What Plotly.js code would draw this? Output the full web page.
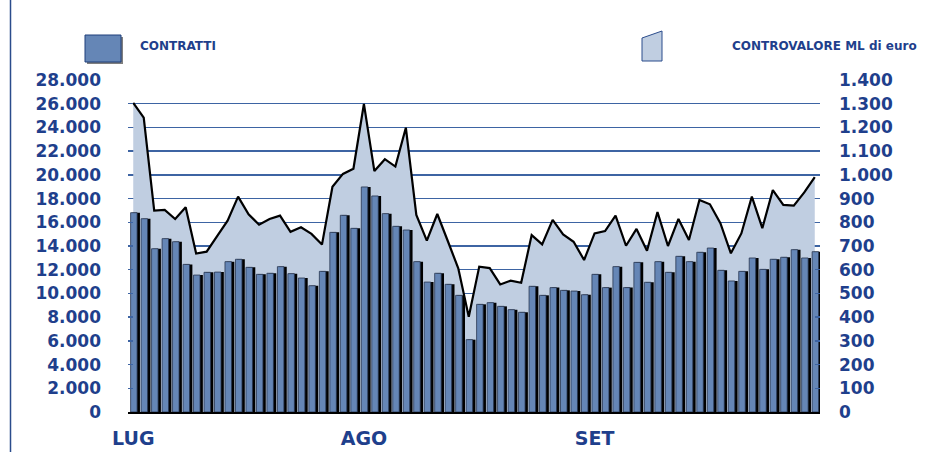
<!DOCTYPE html>
<html>
<head>
<meta charset="utf-8">
<script src="https://cdn.plot.ly/plotly-3.0.1.min.js"></script>
<style>
  html, body { margin: 0; padding: 0; background: #ffffff; }
  #chart { width: 926px; height: 452px; }
</style>
</head>
<body>
<div id="chart"></div>
<script>
// ---- data ----
const contratti = [16810,16300,13770,14620,14360,12450,11550,11780,11800,12680,
  12880,12200,11610,11700,12260,11670,11300,10650,11860,15150,
  16590,15490,18980,18220,16730,15660,15350,12680,10960,11700,
  10770,9840,6100,9080,9220,8910,8630,8410,10600,9840,
  10490,10260,10200,9890,11610,10490,12260,10490,12620,10940,
  12680,11780,13130,12680,13470,13830,11950,11050,11860,12990,
  12030,12880,13050,13690,12990,13520];
const controvalore = [1304,1241,849,852,814,863,668,676,742,807,
  908,834,790,814,828,760,779,751,706,950,
  1004,1026,1299,1016,1066,1035,1199,831,723,835,
  721,606,402,613,607,538,554,545,746,707,
  810,749,718,641,753,763,828,701,772,680,
  843,700,814,725,894,876,796,669,753,908,
  775,936,873,870,926,990];
const monthLabels = ["LUG", "AGO", "SET"];
const monthPos = [0, 22, 44];
const legendNames = ["CONTRATTI", "CONTROVALORE ML di euro"];

const idx = contratti.map((_, i) => i);

const NAVY = "#1F3F8C";
const BARBLUE = "#6586B6";
const AREA = "#C0CEE1";
const GRID = "#3D64A3";

// plot geometry in pixels (for legend shapes placed in paper coords)
const L = 128, R = 820, T = 80, B = 412;
const px = x => (x - L) / (R - L);
const py = y => (B - y) / (B - T);

const traces = [
  {
    type: "scatter", x: idx, y: controvalore, name: legendNames[1],
    mode: "lines", fill: "tozeroy", fillcolor: AREA,
    line: { color: "#000000", width: 2.2 },
    xaxis: "x", yaxis: "y", showlegend: false
  },
  {
    type: "bar", x: idx, y: contratti, name: legendNames[0] + " shadow",
    marker: { color: "#000000", line: { width: 0 } },
    width: 0.74, offset: -0.1,
    xaxis: "x", yaxis: "y2", showlegend: false
  },
  {
    type: "bar", x: idx, y: contratti, name: legendNames[0],
    marker: { color: BARBLUE, line: { color: "#27354F", width: 0.8 } },
    width: 0.62, offset: -0.25,
    xaxis: "x", yaxis: "y2", showlegend: false
  }
];

const tickFont = { family: "DejaVu Sans, Arial, sans-serif", size: 17, color: NAVY, weight: 700 };

const shapes = [
  // left frame line
  { type: "line", xref: "paper", yref: "paper", x0: px(10.5), x1: px(10.5), y0: py(0), y1: py(452),
    line: { color: "#2B4C8C", width: 1.5 } },
  // legend 1: bar icon with shadow
  { type: "rect", xref: "paper", yref: "paper", x0: px(87), x1: px(123), y0: py(37), y1: py(64),
    fillcolor: "#7F7F7F", line: { width: 0 } },
  { type: "rect", xref: "paper", yref: "paper", x0: px(85), x1: px(121), y0: py(35), y1: py(62),
    fillcolor: BARBLUE, line: { color: "#1F3F7A", width: 1 } },
  // legend 2: area icon (parallelogram)
  { type: "path", xref: "paper", yref: "paper",
    path: `M ${px(642)} ${py(61)} L ${px(642)} ${py(38)} L ${px(662)} ${py(31)} L ${px(662)} ${py(61)} Z`,
    fillcolor: AREA, line: { color: "#2B4C8C", width: 1 } }
];

const annFont = { family: "DejaVu Sans, Arial, sans-serif", size: 12, color: NAVY, weight: 700 };
const annotations = [
  { xref: "paper", yref: "paper", x: px(138), y: py(46), xanchor: "left", yanchor: "middle",
    text: legendNames[0], showarrow: false, font: annFont },
  { xref: "paper", yref: "paper", x: px(730), y: py(46), xanchor: "left", yanchor: "middle",
    text: legendNames[1], showarrow: false, font: annFont }
];

const layout = {
  width: 926, height: 452,
  margin: { l: L, r: 926 - R, t: T, b: 452 - B, pad: 0 },
  paper_bgcolor: "#ffffff", plot_bgcolor: "rgba(0,0,0,0)",
  separators: ",.",
  barmode: "overlay",
  showlegend: false,
  xaxis: {
    range: [-0.5, contratti.length - 0.5],
    tickmode: "array", tickvals: monthPos, ticktext: monthLabels,
    ticks: "", showgrid: false, zeroline: false,
    showline: true, linecolor: "#000000", linewidth: 1.5,
    tickfont: { family: "DejaVu Sans, Arial, sans-serif", size: 19, color: NAVY, weight: 700 },
    ticklabelstandoff: 9
  },
  yaxis: {
    side: "right", range: [0, 1400], dtick: 100, tickformat: ",d",
    showgrid: false, zeroline: false, showline: false,
    ticks: "inside", ticklen: 5, tickcolor: GRID, tickwidth: 1.3,
    tickfont: tickFont, ticklabelstandoff: 18
  },
  yaxis2: {
    overlaying: "y", side: "left", range: [0, 28000], dtick: 2000, tickformat: ",d",
    showgrid: true, gridcolor: GRID, gridwidth: 1.3, zeroline: false, showline: false,
    ticks: "inside", ticklen: 5, tickcolor: GRID, tickwidth: 1.3,
    tickfont: tickFont, ticklabelstandoff: 26
  },
  shapes: shapes,
  annotations: annotations
};

Plotly.newPlot("chart", traces, layout, { staticPlot: true, displayModeBar: false });
</script>
</body>
</html>
